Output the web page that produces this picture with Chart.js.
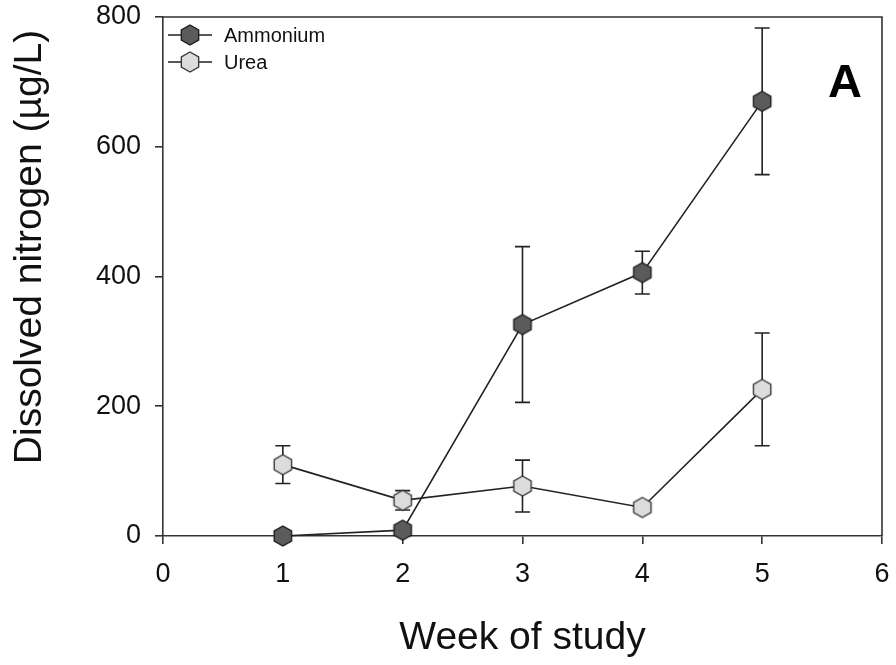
<!DOCTYPE html>
<html>
<head>
<meta charset="utf-8">
<title>Dissolved nitrogen by week</title>
<script src="https://cdn.jsdelivr.net/npm/chart.js@4/dist/chart.umd.min.js"></script>
<style>
  html, body { margin: 0; padding: 0; background: #fff; }
  canvas { display: block; }
</style>
</head>
<body>
<canvas id="chart" width="896" height="665"></canvas>
<script>
// Weekly means and standard errors of dissolved nitrogen (µg/L)
const weeks = [1, 2, 3, 4, 5];
const ammonium = [0, 9, 326, 406, 670];
const ammoniumErr = [0, 0, 120, 33, 113];
const urea = [110, 55, 77, 44, 226];
const ureaErr = [29, 15, 40, 0, 87];
const xTicks = [0, 1, 2, 3, 4, 5, 6];
const yTicks = [0, 200, 400, 600, 800];
const seriesNames = ['Ammonium', 'Urea'];
const xTitle = 'Week of study';
const yTitle = 'Dissolved nitrogen (µg/L)';

const FONT = "'Liberation Sans', Arial, Helvetica, sans-serif";
const INK = '#222';

// Pointy-topped hexagon used as the point marker
function hexagon(fill, stroke, r) {
  const size = Math.ceil(r * 2 + 4);
  const cv = document.createElement('canvas');
  cv.width = size; cv.height = size;
  const ctx = cv.getContext('2d');
  const c = size / 2;
  ctx.beginPath();
  for (let i = 0; i < 6; i++) {
    const a = -Math.PI / 2 + i * Math.PI / 3;
    ctx.lineTo(c + r * Math.cos(a), c + r * Math.sin(a));
  }
  ctx.closePath();
  ctx.fillStyle = fill;
  ctx.fill();
  ctx.lineWidth = 1.4;
  ctx.strokeStyle = stroke;
  ctx.stroke();
  return cv;
}

const darkHex = hexagon('#5b5b5b', '#1e1e1e', 10);
const lightHex = hexagon('#dcdcdc', '#3a3a3a', 10);

const toPoints = (ys) => weeks.map((w, i) => ({ x: w, y: ys[i] }));
const errors = [ammoniumErr, ureaErr];
const means = [ammonium, urea];

// Vertical error bars with caps, drawn beneath lines and markers
const errorBars = {
  id: 'errorBars',
  beforeDatasetsDraw(chart) {
    const { ctx, scales: { x, y } } = chart;
    ctx.save();
    ctx.strokeStyle = INK;
    ctx.lineWidth = 1.6;
    means.forEach((vals, d) => {
      vals.forEach((v, i) => {
        const e = errors[d][i];
        if (!e) return;
        const px = x.getPixelForValue(weeks[i]);
        const top = y.getPixelForValue(v + e);
        const bot = y.getPixelForValue(v - e);
        const cap = 7.5;
        ctx.beginPath();
        ctx.moveTo(px, top); ctx.lineTo(px, bot);
        ctx.moveTo(px - cap, top); ctx.lineTo(px + cap, top);
        ctx.moveTo(px - cap, bot); ctx.lineTo(px + cap, bot);
        ctx.stroke();
      });
    });
    ctx.restore();
  }
};

// Top and right edges of the plot frame, axis titles, legend and panel letter
const decorations = {
  id: 'decorations',
  afterDraw(chart) {
    const { ctx, chartArea: a } = chart;
    ctx.save();
    ctx.strokeStyle = '#333';
    ctx.lineWidth = 1.6;
    ctx.beginPath();
    ctx.moveTo(a.left, a.top);
    ctx.lineTo(a.right, a.top);
    ctx.lineTo(a.right, a.bottom);
    ctx.stroke();

    // axis titles
    ctx.fillStyle = '#111';
    ctx.font = '39px ' + FONT;
    ctx.textAlign = 'center';
    ctx.textBaseline = 'alphabetic';
    ctx.fillText(xTitle, (a.left + a.right) / 2, 649);
    ctx.save();
    ctx.translate(41, 247);
    ctx.rotate(-Math.PI / 2);
    ctx.fillText(yTitle, 0, 0);
    ctx.restore();

    // legend
    const markers = [darkHex, lightHex];
    const rows = [a.top + 18, a.top + 45];
    ctx.font = '20px ' + FONT;
    ctx.textBaseline = 'middle';
    ctx.textAlign = 'left';
    rows.forEach((ry, i) => {
      ctx.strokeStyle = INK;
      ctx.lineWidth = 1.5;
      ctx.beginPath();
      ctx.moveTo(a.left + 5, ry);
      ctx.lineTo(a.left + 49, ry);
      ctx.stroke();
      const m = markers[i];
      ctx.drawImage(m, a.left + 27 - m.width / 2, ry - m.height / 2);
      ctx.fillStyle = '#111';
      ctx.fillText(seriesNames[i], a.left + 61, ry + 1);
    });

    // panel letter
    ctx.font = 'bold 47px ' + FONT;
    ctx.textAlign = 'center';
    ctx.textBaseline = 'alphabetic';
    ctx.fillStyle = '#000';
    ctx.fillText('A', 845, 97);
    ctx.restore();
  }
};

new Chart(document.getElementById('chart'), {
  type: 'line',
  data: {
    datasets: [
      {
        label: seriesNames[0],
        data: toPoints(ammonium),
        borderColor: INK,
        borderWidth: 1.6,
        pointStyle: darkHex,
        pointRadius: 10,
        pointHoverRadius: 10,
        tension: 0,
        clip: false
      },
      {
        label: seriesNames[1],
        data: toPoints(urea),
        borderColor: INK,
        borderWidth: 1.6,
        pointStyle: lightHex,
        pointRadius: 10,
        pointHoverRadius: 10,
        tension: 0,
        clip: false
      }
    ]
  },
  options: {
    responsive: false,
    animation: false,
    devicePixelRatio: 1,
    layout: { padding: { left: 0, right: 14, top: 17, bottom: 0 } },
    plugins: {
      legend: { display: false },
      tooltip: { enabled: false }
    },
    scales: {
      x: {
        type: 'linear',
        min: 0,
        max: 6,
        afterBuildTicks: (s) => { s.ticks = xTicks.map(v => ({ value: v })); },
        afterFit: (s) => { s.height = 665 - 536; s.paddingLeft = 0; s.paddingRight = 0; },
        grid: { drawOnChartArea: false, drawTicks: true, tickLength: 8, color: '#333', lineWidth: 1.6 },
        border: { display: true, color: '#333', width: 1.6 },
        ticks: { color: '#111', font: { family: FONT, size: 27 }, padding: 14, maxRotation: 0 }
      },
      y: {
        type: 'linear',
        min: 0,
        max: 800,
        afterBuildTicks: (s) => { s.ticks = yTicks.map(v => ({ value: v })); },
        afterFit: (s) => { s.width = 163; s.paddingTop = 0; s.paddingBottom = 0; },
        grid: { drawOnChartArea: false, drawTicks: true, tickLength: 8, color: '#333', lineWidth: 1.6 },
        border: { display: true, color: '#333', width: 1.6 },
        ticks: { color: '#111', font: { family: FONT, size: 27 }, padding: 14 }
      }
    }
  },
  plugins: [errorBars, decorations]
});
</script>
</body>
</html>
